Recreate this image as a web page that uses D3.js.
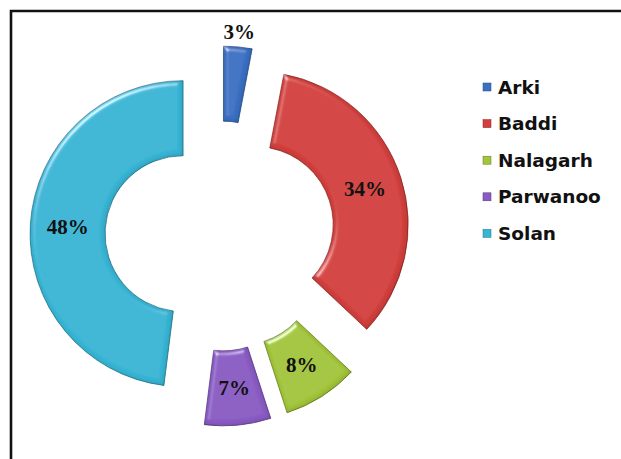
<!DOCTYPE html>
<html>
<head>
<meta charset="utf-8">
<script src="https://cdn.jsdelivr.net/npm/d3@7"></script>
<style>
  html, body { margin: 0; padding: 0; background: #fff; }
  svg { display: block; }
</style>
</head>
<body>
<svg id="chart" width="621" height="459"></svg>
<script>
// Share of units by location (percent)
const categories = ["Arki", "Baddi", "Nalagarh", "Parwanoo", "Solan"];
const shares = [3, 34, 8, 7, 48];
const colors = ["#3a70c2", "#d1403d", "#a2c53a", "#8a5bc3", "#37b5d4"];
const edgeColors = ["#23497f", "#862523", "#62781f", "#51337a", "#1f6f84"];

const width = 621, height = 459;
const svg = d3.select("#chart");

// Frame around the chart area
svg.append("path")
  .attr("d", "M11,459V11H621")
  .attr("fill", "none")
  .attr("stroke", "#111")
  .attr("stroke-width", 2.6);

// Soft bevel used for slices: light rim on edges facing the light, dark rim opposite
const defs = svg.append("defs");
const bevel = defs.append("filter").attr("id", "bevel")
  .attr("x", "-10%").attr("y", "-10%").attr("width", "120%").attr("height", "120%");
bevel.append("feGaussianBlur").attr("in", "SourceAlpha").attr("stdDeviation", 2.5).attr("result", "blur");
const spec = bevel.append("feSpecularLighting")
  .attr("in", "blur").attr("surfaceScale", 4).attr("specularConstant", 0.7)
  .attr("specularExponent", 25).attr("lighting-color", "#ffffff").attr("result", "spec");
spec.append("feDistantLight").attr("azimuth", 235).attr("elevation", 30);
bevel.append("feComposite").attr("in", "spec").attr("in2", "SourceAlpha").attr("operator", "in").attr("result", "specIn");
// dark inner rim
bevel.append("feOffset").attr("in", "blur").attr("dx", -1.5).attr("dy", -1.5).attr("result", "off");
bevel.append("feComposite").attr("in", "SourceAlpha").attr("in2", "off").attr("operator", "arithmetic")
  .attr("k2", 1).attr("k3", -1).attr("result", "rim");
bevel.append("feFlood").attr("flood-color", "#000").attr("flood-opacity", 0.35).attr("result", "dark");
bevel.append("feComposite").attr("in", "dark").attr("in2", "rim").attr("operator", "in").attr("result", "darkRim");
bevel.append("feComposite").attr("in", "SourceGraphic").attr("in2", "specIn")
  .attr("operator", "arithmetic").attr("k1", 0).attr("k2", 1).attr("k3", 0.8).attr("k4", 0).attr("result", "lit");
bevel.append("feMerge").call(m => {
  m.append("feMergeNode").attr("in", "lit");
  m.append("feMergeNode").attr("in", "darkRim");
});

// Donut geometry
const cx = 220, cy = 236;
const innerR = 78, outerR = 153, explode = 37;

const pie = d3.pie().sort(null).value(d => d.value);
const arc = d3.arc().innerRadius(innerR).outerRadius(outerR);
const data = categories.map((c, i) => ({ name: c, value: shares[i], i }));
const arcs = pie(data);

const g = svg.append("g").attr("transform", `translate(${cx},${cy})`);

const mid = a => (a.startAngle + a.endAngle) / 2;

const slice = g.selectAll("g.slice").data(arcs).join("g")
  .attr("class", "slice")
  .attr("transform", a => `translate(${Math.sin(mid(a)) * explode},${-Math.cos(mid(a)) * explode})`);

slice.append("path")
  .attr("d", arc)
  .attr("fill", a => colors[a.data.i])
  .attr("stroke", a => edgeColors[a.data.i])
  .attr("stroke-width", 0.7)
  .attr("filter", "url(#bevel)");

// Percentage labels: inside the ring, or just outside for very thin slices
slice.append("text")
  .attr("transform", a => {
    const m = mid(a);
    const r = a.data.value < 5 ? outerR + 15 : (innerR + outerR) / 2;
    return `translate(${Math.sin(m) * r},${-Math.cos(m) * r})`;
  })
  .attr("text-anchor", "middle")
  .attr("dy", "0.35em")
  .attr("font-family", "'Liberation Serif', 'Times New Roman', serif")
  .attr("font-weight", "bold")
  .attr("font-size", 21)
  .attr("fill", "#111")
  .text(a => a.data.value + "%");

// Legend
const legend = svg.append("g").attr("transform", "translate(483,87)");
const item = legend.selectAll("g").data(data).join("g")
  .attr("transform", (d, i) => `translate(0,${i * 36.6})`);
item.append("rect")
  .attr("x", 0).attr("y", -4).attr("width", 8).attr("height", 8)
  .attr("fill", d => colors[d.i])
  .attr("stroke", d => edgeColors[d.i]).attr("stroke-width", 0.5);
item.append("text")
  .attr("x", 15).attr("y", 0).attr("dy", "0.36em")
  .attr("font-family", "'DejaVu Sans', sans-serif")
  .attr("font-weight", "bold")
  .attr("font-size", 18.5)
  .attr("fill", "#111")
  .text(d => d.name);
</script>
</body>
</html>
